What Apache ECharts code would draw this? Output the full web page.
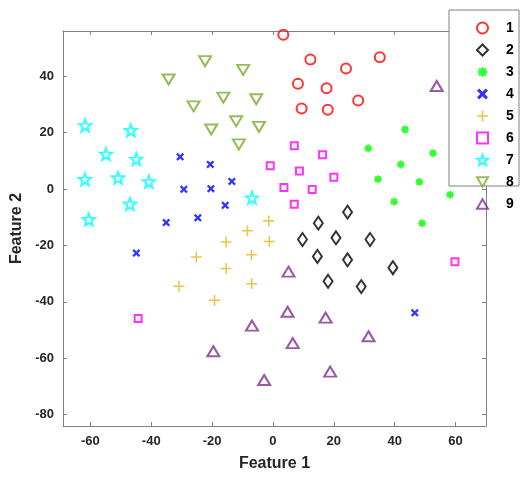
<!DOCTYPE html>
<html><head><meta charset="utf-8">
<script src="https://cdn.jsdelivr.net/npm/echarts@6/dist/echarts.min.js"></script>
<style>html,body{margin:0;padding:0;background:#fff}#c{width:525px;height:477px}</style>
</head><body><div id="c"></div>
<script>
const seriesNames = ['1','2','3','4','5','6','7','8','9'];
const xTicks = [-60,-40,-20,0,20,40,60];
const yTicks = [-80,-60,-40,-20,0,20,40];
const s1 = [[3.4,54.7],[12.3,45.9],[24.0,42.7],[35.1,46.7],[8.2,37.3],[17.6,35.7],[28.0,31.4],[9.4,28.5],[18.0,28.1]];
const s2 = [[24.5,-8.2],[14.9,-12.1],[9.7,-17.9],[20.7,-17.3],[31.9,-17.9],[14.6,-23.9],[24.5,-25.1],[39.4,-27.9],[18.1,-32.7],[29.0,-34.6]];
const s3 = [[43.4,21.1],[31.3,14.4],[52.6,12.7],[42.0,8.7],[34.5,3.5],[48.1,2.5],[58.2,-2.0],[39.8,-4.5],[49.0,-12.1]];
const s4 = [[-30.5,11.4],[-20.6,8.7],[-13.5,2.7],[-29.3,-0.1],[-20.4,0.1],[-15.7,-5.8],[-35.1,-11.9],[-24.7,-10.2],[-44.9,-22.7],[46.6,-43.9]];
const s5 = [[-1.4,-11.3],[-1.2,-18.6],[-8.4,-14.8],[-15.4,-18.8],[-25.2,-24.1],[-7.1,-23.3],[-15.4,-28.2],[-7.0,-33.6],[-30.9,-34.5],[-19.2,-39.4]];
const s6 = [[7.0,15.3],[16.3,12.1],[-0.9,8.2],[8.7,6.4],[20.0,4.2],[3.6,0.5],[12.9,-0.2],[7.0,-5.4],[59.8,-25.8],[-44.3,-45.9]];
const s7 = [[-61.7,22.5],[-46.7,20.8],[-54.9,12.4],[-44.9,10.6],[-61.8,3.4],[-50.9,4.0],[-40.8,2.6],[-47.0,-5.3],[-6.9,-3.1],[-60.5,-10.8]];
const s8 = [[-22.3,45.3],[-9.8,42.2],[-34.3,38.8],[-16.3,32.4],[-5.5,31.8],[-26.1,29.3],[-12.1,24.0],[-4.6,22.0],[-20.3,21.1],[-11.2,15.8]];
const s9 = [[53.8,36.5],[5.1,-29.3],[4.8,-43.5],[17.3,-45.6],[6.5,-54.6],[31.4,-52.2],[18.8,-64.7],[-2.9,-67.7],[-6.9,-48.4],[-19.6,-57.5]];
const allData = [s1,s2,s3,s4,s5,s6,s7,s8,s9];

function polyPath(pts){return 'path://M'+pts.map(p=>p[0].toFixed(3)+','+p[1].toFixed(3)).join('L')+'Z';}
function crossPts(w){const a=10-w/2,b=10+w/2;return [[a,0],[b,0],[b,a],[20,a],[20,b],[b,b],[b,20],[a,20],[a,b],[0,b],[0,a],[a,a]];}
const plusPath = polyPath(crossPts(2.8));
const xPath = polyPath(crossPts(5).map(p=>{const a=Math.PI/4,dx=p[0]-10,dy=p[1]-10;return [10+dx*Math.cos(a)-dy*Math.sin(a),10+dx*Math.sin(a)+dy*Math.cos(a)];}));
function starPts(n,ro,ri,rot){const r=[];for(let k=0;k<2*n;k++){const a=rot+k*Math.PI/n;const rr=k%2?ri:ro;r.push([10+rr*Math.cos(a),10+rr*Math.sin(a)]);}return r;}
const asterPath = polyPath(starPts(8,10,7,-Math.PI/2));
const star5Path = polyPath(starPts(5,10,4.2,-Math.PI/2));
const triUp = 'path://M10,0L20,17L0,17Z';
const triDown = 'path://M0,0L20,0L10,17Z';

const styles = [
 {symbol:'circle',size:10,color:'#ff0000',open:true},
 {symbol:'diamond',size:[9,13],color:'#000000',open:true},
 {symbol:asterPath,size:9,color:'#00ff00',open:false},
 {symbol:xPath,size:8,color:'#0000ff',open:false},
 {symbol:plusPath,size:11,color:'#EDB120',open:false},
 {symbol:'rect',size:7,color:'#ff00ff',open:true},
 {symbol:star5Path,size:12,color:'#00ffff',open:true},
 {symbol:triDown,size:[12,10],color:'#77AC30',open:true},
 {symbol:triUp,size:[12,10],color:'#7E2F8E',open:true}
];

const series = allData.map((d,i)=>{
  const st = styles[i];
  return {
    name: seriesNames[i], type:'scatter', data:d, symbol:st.symbol, symbolSize:st.size,
    itemStyle: st.open ? {color:'rgba(255,255,255,0)', borderColor:st.color, borderWidth:2}
                       : {color:st.color, borderWidth:0},
    emphasis:{disabled:true}, z:3
  };
});

const fam = 'Liberation Sans, Arial, sans-serif';
const lbl = {fontFamily:fam, fontWeight:'bold', fontSize:13, color:'#262626'};
const axisLine = {show:true, onZero:false, lineStyle:{color:'#808080', width:1}};
const tick = v => ({show:true, inside:true, length:4, customValues:v, lineStyle:{color:'#808080'}});
const chart = echarts.init(document.getElementById('c'), null, {renderer:'canvas'});
chart.setOption({
  animation:false,
  backgroundColor:'#fff',
  grid:{left:63, right:39, top:31, bottom:49},
  xAxis:[
    {type:'value', min:-69, max:70, position:'bottom', axisLine:axisLine, axisTick:tick(xTicks),
     axisLabel:Object.assign({customValues:xTicks, margin:9}, lbl),
     splitLine:{show:false}, name:'Feature 1', nameLocation:'middle', nameGap:30,
     nameTextStyle:{fontFamily:fam, fontWeight:'bold', fontSize:16, color:'#262626'}},
    {type:'value', min:-69, max:70, position:'top', axisLine:axisLine, axisTick:tick(xTicks),
     axisLabel:{show:false}, splitLine:{show:false}}
  ],
  yAxis:[
    {type:'value', min:-84, max:56, position:'left', axisLine:axisLine, axisTick:tick(yTicks),
     axisLabel:Object.assign({customValues:yTicks, margin:9}, lbl),
     splitLine:{show:false}, name:'Feature 2', nameLocation:'middle', nameGap:36, nameRotate:90,
     nameTextStyle:{fontFamily:fam, fontWeight:'bold', fontSize:16, color:'#262626'}},
    {type:'value', min:-84, max:56, position:'right', axisLine:axisLine, axisTick:tick(yTicks),
     axisLabel:{show:false}, splitLine:{show:false}}
  ],
  graphic:[{type:'rect', shape:{x:449, y:10, width:70, height:176}, style:{fill:'#fff', stroke:'#808080', lineWidth:1}, z:50}],
  legend:{orient:'vertical', left:471, top:16, itemWidth:11, itemHeight:11, itemGap:8, z:60,
    textStyle:{fontFamily:fam, fontWeight:'bold', fontSize:14, color:'#000', padding:[0,0,0,13]},
    data:seriesNames, selectedMode:false},
  series:series
});
</script></body></html>
